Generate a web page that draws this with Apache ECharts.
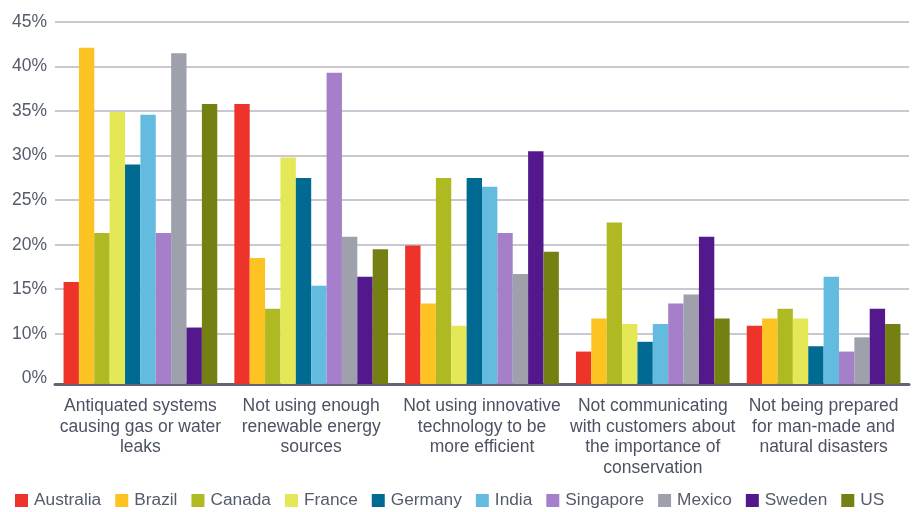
<!DOCTYPE html>
<html>
<head>
<meta charset="utf-8">
<script src="https://cdn.jsdelivr.net/npm/echarts@6/dist/echarts.min.js"></script>
<style>
  html, body { margin: 0; padding: 0; background: #fff; }
  #chart { width: 914px; height: 512px; }
</style>
</head>
<body>
<div id="chart"></div>
<script>
const categories = [
  "Antiquated systems\ncausing gas or water\nleaks",
  "Not using enough\nrenewable energy\nsources",
  "Not using innovative\ntechnology to be\nmore efficient",
  "Not communicating\nwith customers about\nthe importance of\nconservation",
  "Not being prepared\nfor man-made and\nnatural disasters"
]

const countries = ["Australia", "Brazil", "Canada", "France", "Germany", "India", "Singapore", "Mexico", "Sweden", "US"]
const colors = ["#ee342a", "#fdc322", "#afba23", "#e4e857", "#006a93", "#63bce0", "#a57fc9", "#9ea0ac", "#53188b", "#748011"]

// % per country, one value per category
const australia = [15.8, 35.8, 19.9, 8.0, 10.9]
const brazil    = [42.1, 18.5, 13.4, 11.7, 11.7]
const canada    = [21.3, 12.8, 27.5, 22.5, 12.8]
const france    = [34.9, 29.8, 10.9, 11.1, 11.7]
const germany   = [29.0, 27.5, 27.5, 9.1, 8.6]
const india     = [34.6, 15.4, 26.5, 11.1, 16.4]
const singapore = [21.3, 39.3, 21.3, 13.4, 8.0]
const mexico    = [41.5, 20.9, 16.7, 14.4, 9.6]
const sweden    = [10.7, 16.4, 30.5, 20.9, 12.8]
const us        = [35.8, 19.5, 19.2, 11.7, 11.1]

const seriesValues = [australia, brazil, canada, france, germany, india, singapore, mexico, sweden, us]

// tick labels as printed on the original (its bottom label reads 0%)
const yTickValues = [5, 10, 15, 20, 25, 30, 35, 40, 45]
const yTickLabels = ["0%", "10%", "15%", "20%", "25%", "30%", "35%", "40%", "45%"]
const gridValues = [10, 15, 20, 25, 30, 35, 40, 45]

const myChart = echarts.init(document.getElementById("chart"))
myChart.setOption({
  animation: false,
  textStyle: { fontFamily: "Liberation Sans" },
  grid: { left: 55, right: 5, top: 22, bottom: 128 },
  legend: {
    bottom: 3,
    left: 15,
    padding: 0,
    itemWidth: 13,
    itemHeight: 13,
    itemGap: 14,
    icon: "rect",
    textStyle: { color: "#555b6b", fontSize: 17.3, padding: [0, 0, 0, 1] },
    data: countries
  },
  xAxis: {
    type: "category",
    data: categories,
    axisLine: { lineStyle: { color: "#5f6672", width: 3 } },
    axisTick: { show: false },
    axisLabel: {
      color: "#4c5262",
      fontSize: 17.5,
      lineHeight: 20.5,
      margin: 12,
      interval: 0
    }
  },
  yAxis: {
    type: "value",
    min: 4.36,
    max: 45,
    axisLine: { show: false },
    axisTick: { show: false, customValues: gridValues },
    splitLine: { lineStyle: { color: "#b7b5c3", width: 1.5 } },
    axisLabel: {
      customValues: yTickValues,
      color: "#555b6b",
      fontSize: 17.5,
      margin: 8,
      formatter: function (v) {
        return yTickLabels[yTickValues.indexOf(Math.round(v))]
      }
    }
  },
  series: countries.map(function (name, i) {
    return {
      name: name,
      type: "bar",
      data: seriesValues[i],
      barGap: "0%",
      barCategoryGap: "10%",
      itemStyle: { color: colors[i] }
    }
  })
})
</script>
</body>
</html>
